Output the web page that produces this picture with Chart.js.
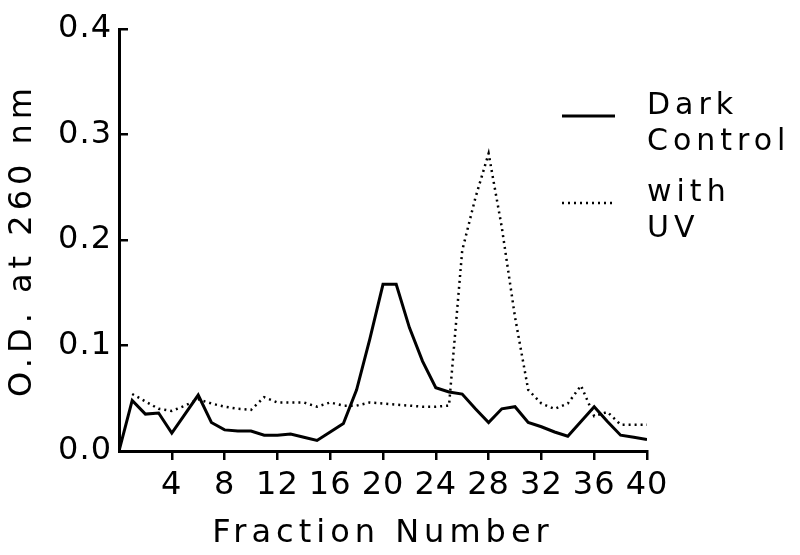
<!DOCTYPE html>
<html>
<head>
<meta charset="utf-8">
<script src="https://cdn.jsdelivr.net/npm/chart.js"></script>
<style>
  body { margin: 0; background: #fff; }
  #wrap { width: 800px; height: 555px; }
</style>
</head>
<body>
<div id="wrap"><canvas id="chart" width="800" height="555"></canvas></div>
<script>
// fractions collected and the O.D. read for each
var darkFractions = [0, 1, 2, 3, 4, 5, 6, 7, 8, 9, 10, 11, 12, 13, 14, 15, 16, 17, 18, 19, 20,
    21, 22, 23, 24, 25, 26, 27, 28, 29, 30, 31, 32, 33, 34, 35, 36, 37, 38, 39, 40];
var darkControl = [0.0, 0.048, 0.035, 0.036, 0.017, 0.035, 0.053, 0.027, 0.020, 0.019, 0.019,
    0.015, 0.015, 0.016, 0.013, 0.010, 0.018, 0.026, 0.058, 0.106, 0.158,
    0.158, 0.117, 0.085, 0.060, 0.056, 0.054, 0.040, 0.027, 0.040, 0.042,
    0.027, 0.023, 0.018, 0.014, 0.028, 0.042, 0.028, 0.015, 0.013, 0.011];

var uvFractions = [1, 2, 3, 4, 5, 6, 7, 8, 9, 10, 11, 12, 13, 14, 15, 16, 17, 18, 19, 20,
    21, 22, 23, 24, 25, 26, 27, 28, 29, 30, 31, 32, 33, 34, 35, 36, 37, 38, 39, 40];
var withUV = [0.054, 0.047, 0.040, 0.038, 0.043, 0.049, 0.045, 0.042, 0.040, 0.039,
    0.051, 0.046, 0.046, 0.046, 0.042, 0.046, 0.043, 0.043, 0.046, 0.045,
    0.044, 0.043, 0.042, 0.042, 0.043, 0.190, 0.240, 0.282, 0.212, 0.127,
    0.058, 0.045, 0.040, 0.045, 0.062, 0.033, 0.037, 0.025, 0.025, 0.025];

var xTicks = [4, 8, 12, 16, 20, 24, 28, 32, 36, 40];
var yTicks = [0.0, 0.1, 0.2, 0.3, 0.4];

var legendItems = [
    { lines: ["Dark", "Control"], dash: [] },
    { lines: ["with", "UV"], dash: [2, 4] }
];

var FONT = "'DejaVu Sans', sans-serif";

function toPoints(xs, ys) {
    return xs.map(function (x, i) { return { x: x, y: ys[i] }; });
}

// canvas letterSpacing changes per phase: titles, tick labels, legend
var spacingPlugin = {
    id: 'spacing',
    beforeDraw: function (chart) {
        chart.ctx.letterSpacing = '5px';
    },
    afterDatasetsDraw: function (chart) {
        chart.ctx.letterSpacing = '1px';
    }
};

var legendPlugin = {
    id: 'sideLegend',
    afterDraw: function (chart) {
        var ctx = chart.ctx;
        ctx.save();
        ctx.letterSpacing = '5px';
        ctx.fillStyle = '#000';
        ctx.strokeStyle = '#000';
        ctx.font = '30px ' + FONT;
        ctx.textAlign = 'left';
        ctx.textBaseline = 'middle';
        var top = [106, 193];
        legendItems.forEach(function (item, i) {
            var y = top[i];
            ctx.beginPath();
            ctx.setLineDash(item.dash);
            ctx.lineWidth = item.dash.length ? 2.5 : 3;
            ctx.moveTo(562, y + 10);
            ctx.lineTo(615, y + 10);
            ctx.stroke();
            ctx.setLineDash([]);
            item.lines.forEach(function (t, j) {
                ctx.fillText(t, 647, y + j * 36);
            });
        });
        ctx.restore();
        ctx.letterSpacing = '0px';
    }
};

new Chart(document.getElementById('chart'), {
    type: 'line',
    data: {
        datasets: [{
            label: 'Dark Control',
            data: toPoints(darkFractions, darkControl),
            borderColor: '#000',
            borderWidth: 3,
            pointRadius: 0,
            tension: 0
        }, {
            label: 'with UV',
            data: toPoints(uvFractions, withUV),
            borderColor: '#000',
            borderWidth: 2.5,
            borderDash: [2, 4],
            pointRadius: 0,
            tension: 0
        }]
    },
    options: {
        responsive: false,
        animation: false,
        layout: {
            padding: { left: 0, right: 153, top: 29, bottom: 0 }
        },
        scales: {
            x: {
                type: 'linear',
                min: 0,
                max: 40,
                afterBuildTicks: function (scale) {
                    scale.ticks = xTicks.map(function (v) { return { value: v }; });
                },
                afterFit: function (scale) {
                    scale.height = 104;
                },
                grid: {
                    drawOnChartArea: false,
                    color: '#000',
                    lineWidth: 2.5,
                    tickLength: 9
                },
                border: { color: '#000', width: 3 },
                ticks: {
                    z: 1,
                    color: '#000',
                    padding: 6,
                    maxRotation: 0,
                    autoSkip: false,
                    font: { family: FONT, size: 32 }
                },
                title: {
                    display: true,
                    text: 'Fraction Number',
                    color: '#000',
                    padding: { top: 0, bottom: 2 },
                    font: { family: FONT, size: 32 }
                }
            },
            y: {
                min: 0,
                max: 0.4,
                afterBuildTicks: function (scale) {
                    scale.ticks = yTicks.map(function (v) { return { value: v }; });
                },
                afterFit: function (scale) {
                    scale.width = 119;
                    scale.paddingTop = 0;
                    scale.paddingBottom = 0;
                },
                grid: {
                    drawOnChartArea: false,
                    color: '#000',
                    lineWidth: 2.5,
                    tickLength: -9
                },
                border: { color: '#000', width: 3 },
                ticks: {
                    z: 1,
                    color: '#000',
                    padding: 16,
                    font: { family: FONT, size: 32 },
                    callback: function (value) {
                        return value.toFixed(1);
                    }
                },
                title: {
                    display: true,
                    text: 'O.D. at 260 nm',
                    color: '#000',
                    padding: { top: 3, bottom: 0 },
                    font: { family: FONT, size: 32 }
                }
            }
        },
        plugins: {
            legend: { display: false },
            tooltip: { enabled: false }
        }
    },
    plugins: [spacingPlugin, legendPlugin]
});
</script>
</body>
</html>
